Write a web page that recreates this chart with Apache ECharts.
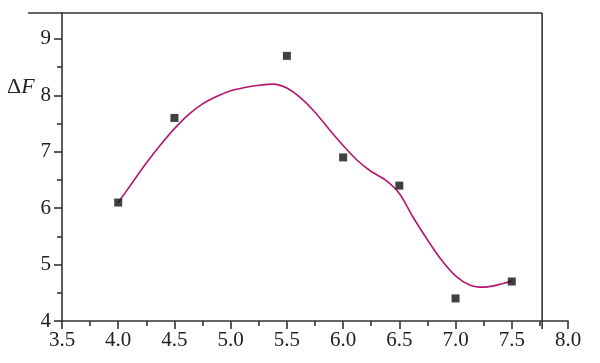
<!DOCTYPE html>
<html><head><meta charset="utf-8">
<script src="https://cdn.jsdelivr.net/npm/echarts@6/dist/echarts.min.js"></script>
<style>html,body{margin:0;padding:0;background:#fff}#c{width:600px;height:363px}</style>
</head><body><div id="c"></div>
<script>
const pointX = [4.0, 4.5, 5.5, 6.0, 6.5, 7.0, 7.5];
const pointY = [6.1, 7.6, 8.7, 6.9, 6.4, 4.4, 4.7];
const curveX = [4.0, 4.125, 4.25, 4.375, 4.5, 4.625, 4.75, 4.875, 5.0, 5.125, 5.25, 5.375, 5.5, 5.625, 5.75, 5.875, 6.0, 6.125, 6.25, 6.375, 6.5, 6.625, 6.75, 6.875, 7.0, 7.125, 7.25, 7.375, 7.5];
const curveY = [6.10, 6.45, 6.80, 7.12, 7.41, 7.66, 7.85, 7.98, 8.08, 8.14, 8.18, 8.20, 8.13, 7.95, 7.70, 7.40, 7.11, 6.85, 6.65, 6.50, 6.26, 5.83, 5.44, 5.08, 4.80, 4.64, 4.60, 4.64, 4.71];
const yTickLabels = [4, 5, 6, 7, 8, 9];
const yMinorTicks = [4.5, 5.5, 6.5, 7.5, 8.5];

const FONT = 'Liberation Serif';
const AX = '#333';
const chart = echarts.init(document.getElementById('c'), null, {renderer: 'canvas'});
const yMax = 9.46, frameX = 7.77;
chart.setOption({
  animation: false,
  backgroundColor: '#fff',
  grid: {left: 62, right: 32, top: 13, bottom: 42},
  xAxis: {
    type: 'value', min: 3.5, max: 8.0, interval: 0.5,
    axisLine: {show: true, lineStyle: {color: AX, width: 1.6}},
    axisTick: {show: true, inside: false, length: 8, lineStyle: {color: AX, width: 1.6}},
    minorTick: {show: true, splitNumber: 2, length: 5, lineStyle: {color: AX, width: 1.6}},
    splitLine: {show: false},
    axisLabel: {fontFamily: FONT, fontSize: 21, color: '#222', margin: 9,
      formatter: v => v.toFixed(1)}
  },
  yAxis: [{
    type: 'value', min: 4, max: yMax,
    axisLine: {show: true, lineStyle: {color: AX, width: 1.6}},
    axisTick: {show: true, length: 8, customValues: yTickLabels, lineStyle: {color: AX, width: 1.6}},
    splitLine: {show: false},
    axisLabel: {fontFamily: FONT, fontSize: 21, color: '#222', margin: 11, customValues: yTickLabels}
  }, {
    type: 'value', min: 4, max: yMax, position: 'left',
    axisLine: {show: false},
    axisTick: {show: true, length: 5, customValues: yMinorTicks, lineStyle: {color: AX, width: 1.6}},
    splitLine: {show: false},
    axisLabel: {show: false}
  }],
  series: [{
    type: 'line', smooth: 0.3, showSymbol: false, symbol: 'none',
    data: curveX.map((x, i) => [x, curveY[i]]),
    lineStyle: {color: '#b3166e', width: 1.6}, z: 2
  }, {
    type: 'scatter', symbol: 'rect', symbolSize: 8,
    data: pointX.map((x, i) => [x, pointY[i]]),
    itemStyle: {color: '#111'}, z: 3
  }]
});

const pTop = chart.convertToPixel({gridIndex: 0}, [frameX, yMax]);
const pBot = chart.convertToPixel({gridIndex: 0}, [frameX, 4]);
const pLbl = chart.convertToPixel({gridIndex: 0}, [3.5, 8.15]);
chart.setOption({
  graphic: [
    {type: 'line', shape: {x1: 28, y1: pTop[1], x2: pTop[0], y2: pTop[1]},
      style: {stroke: AX, lineWidth: 1.6}},
    {type: 'line', shape: {x1: pTop[0], y1: pTop[1], x2: pTop[0], y2: pBot[1] + 8},
      style: {stroke: AX, lineWidth: 1.6}},
    {type: 'text', left: 7, top: pLbl[1] - 11,
      style: {text: '{a|Δ}{b|F}', fill: '#222',
        rich: {a: {fontFamily: FONT, fontSize: 22, fill: '#222'},
               b: {fontFamily: FONT, fontSize: 22, fontStyle: 'italic', fill: '#222'}}}}
  ]
});
</script></body></html>
